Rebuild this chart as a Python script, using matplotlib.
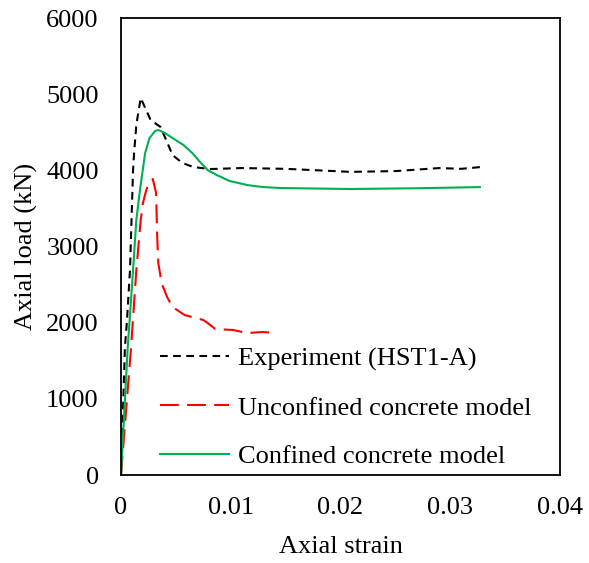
import matplotlib
matplotlib.use("Agg")
import matplotlib.pyplot as plt

plt.rcParams['font.family'] = ['Liberation Serif', 'DejaVu Serif']

# Experiment (HST1-A)
exp_strain = [0.0, 0.00036, 0.00055, 0.00082, 0.0011, 0.0012, 0.0014, 0.0018,
              0.0027, 0.0036, 0.0040, 0.0047, 0.0056, 0.0066, 0.0081,
              0.011, 0.015, 0.0209, 0.025, 0.029, 0.031, 0.0329]
exp_load = [0, 1680, 2035, 2690, 4000, 4240, 4600, 4950,
            4660, 4570, 4437, 4200, 4096, 4043, 4017,
            4030, 4020, 3980, 3990, 4030, 4020, 4045]

# Unconfined concrete model
unc_strain = [0.0, 0.0009, 0.0014, 0.0018, 0.0020, 0.0023, 0.0025, 0.0029,
              0.0032, 0.0033, 0.0034, 0.0037, 0.0042, 0.0047, 0.0058, 0.0075,
              0.0079, 0.0086, 0.0102, 0.0115, 0.0129, 0.0142]
unc_load = [0, 1640, 2690, 3350, 3571, 3740, 3807, 3886,
            3702, 3125, 2783, 2520, 2337, 2206, 2100, 2035,
            1995, 1917, 1904, 1864, 1877, 1864]

# Confined concrete model
con_strain = [0.0, 0.0006, 0.0011, 0.0014, 0.00173, 0.0022, 0.0026, 0.0031,
              0.0034, 0.0040, 0.0047, 0.0057, 0.0065, 0.0072, 0.0079,
              0.0087, 0.0099, 0.0115, 0.0129, 0.0145, 0.0209, 0.027, 0.0327]
con_load = [0, 1640, 2690, 3350, 3742, 4227, 4424, 4516,
            4530, 4490, 4424, 4332, 4227, 4110, 4004,
            3940, 3860, 3807, 3781, 3768, 3755, 3765, 3780]

fig = plt.figure(figsize=(5.89, 5.63), dpi=100)
ax = fig.add_axes([0.2054, 0.1563, 0.7454, 0.8117])

ax.plot(exp_strain, exp_load, color='black', lw=1.5, linestyle=(0, (3.7, 2.6)),
        label='Experiment (HST1-A)')
ax.plot(unc_strain, unc_load, color='#ff0000', lw=1.5, linestyle=(0, (9, 4)),
        label='Unconfined concrete model')
ax.plot(con_strain, con_load, color='#00b050', lw=1.5, label='Confined concrete model')

ax.set_xlim(0, 0.04)
ax.set_ylim(0, 6000)
ax.set_xticks([0, 0.01, 0.02, 0.03, 0.04])
ax.set_xticklabels(['0', '0.01', '0.02', '0.03', '0.04'])
ax.set_yticks(range(0, 6001, 1000))
ax.tick_params(length=0, labelsize=19, pad=16)
for s in ax.spines.values():
    s.set_linewidth(1.3)

ax.set_xlabel('Axial strain', fontsize=19, labelpad=12)
ax.set_ylabel('Axial load (kN)', fontsize=19, labelpad=6)

ax.legend(loc='lower left', bbox_to_anchor=(0.089, 0.015), frameon=False,
          fontsize=19, handlelength=2.6, handletextpad=0.35, labelspacing=0.95,
          borderpad=0, borderaxespad=0)

fig.savefig('out.png', dpi=100)
